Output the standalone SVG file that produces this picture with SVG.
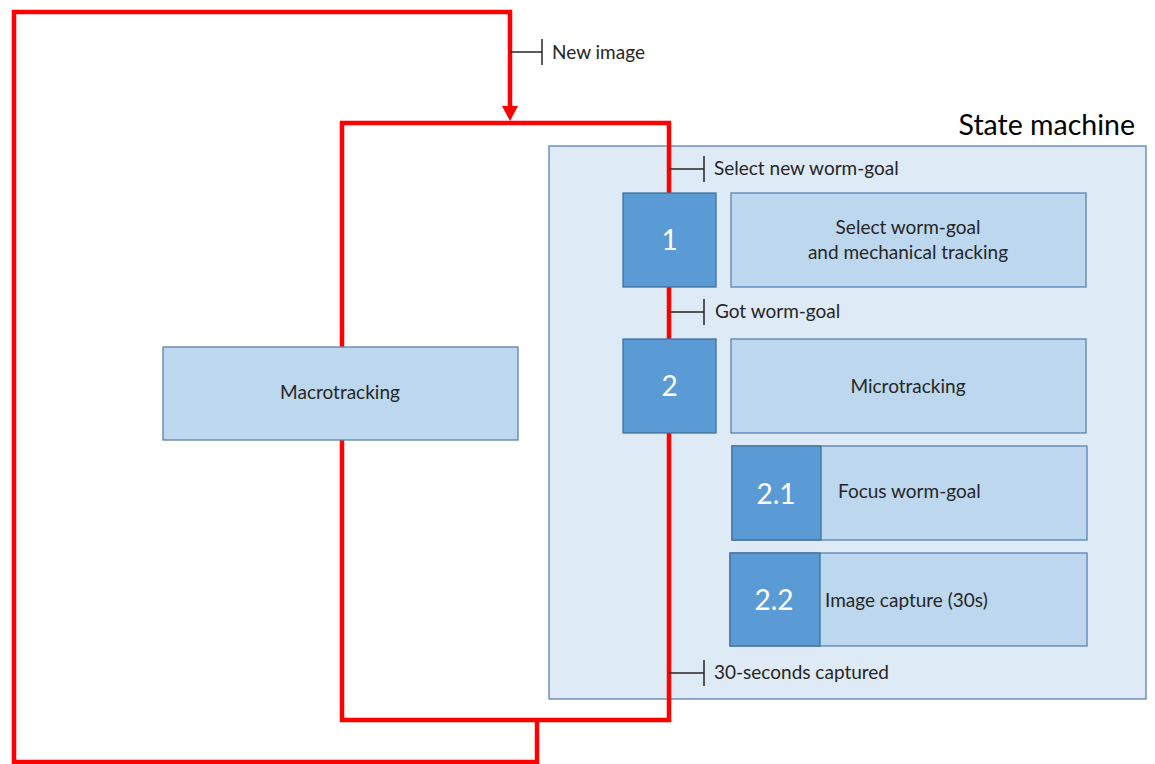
<svg xmlns="http://www.w3.org/2000/svg" width="1155" height="764" viewBox="0 0 1155 764">
<defs>
<style>
.t{font-family:Lato,"Open Sans","Liberation Sans",sans-serif;fill:#262626;font-size:19px}
.n{font-family:Lato,"Open Sans","Liberation Sans",sans-serif;fill:#ffffff;font-size:28px}
.light{fill:#bdd7ee;stroke:#5b82b0;stroke-width:1.3}
.dark{fill:#5b9bd5;stroke:#41719c;stroke-width:1.3}
.red{fill:none;stroke:#ff0000;stroke-width:4.5;stroke-linejoin:miter}
.tick{fill:none;stroke:#262626;stroke-width:1.5}
</style>
</defs>
<rect width="1155" height="764" fill="#ffffff"/>
<g id="state-machine">
<rect x="549" y="146" width="597" height="553" fill="#deeaf6" stroke="#5b82b0" stroke-width="1.3"/>
<text x="1135" y="135" text-anchor="end" style="font-family:Lato,'Open Sans','Liberation Sans',sans-serif;font-size:28.5px;fill:#000">State machine</text>
</g>
<g id="connectors">
<path class="red" d="M537,720 L537,762 L14,762 L14,12 L510,12 L510,108"/>
<path d="M502,106 L518,106 L510,121 z" fill="#ff0000"/>
<path class="red" d="M342,123 L669,123 L669,720 L342,720 Z"/>
<path class="tick" d="M510,52 H542 M542,39 V65"/>
<text class="t" x="552" y="59">New image</text>
<path class="tick" d="M669,169 H704 M704,156 V182"/>
<text class="t" x="714" y="175">Select new worm-goal</text>
<path class="tick" d="M669,312 H704 M704,299 V325"/>
<text class="t" x="715" y="318">Got worm-goal</text>
<path class="tick" d="M669,673 H704 M704,660 V686"/>
<text class="t" x="714" y="679">30-seconds captured</text>
</g>
<g id="macrotracking">
<rect class="light" x="163" y="347" width="355" height="93"/>
<text class="t" x="340" y="399" text-anchor="middle">Macrotracking</text>
</g>
<g id="state-1">
<rect class="dark" x="623" y="193" width="93" height="94"/>
<text class="n" x="669.5" y="250" text-anchor="middle">1</text>
</g>
<g id="select-worm-goal">
<rect class="light" x="731" y="193" width="355" height="94"/>
<text class="t" x="908" y="234" text-anchor="middle">Select worm-goal</text>
<text class="t" x="908" y="259" text-anchor="middle">and mechanical tracking</text>
</g>
<g id="state-2">
<rect class="dark" x="623" y="339" width="93" height="94"/>
<text class="n" x="669.5" y="396" text-anchor="middle">2</text>
</g>
<g id="microtracking">
<rect class="light" x="731" y="339" width="355" height="94"/>
<text class="t" x="908" y="393" text-anchor="middle">Microtracking</text>
</g>
<g id="focus">
<rect class="light" x="732" y="446" width="355" height="94"/>
<rect class="dark" x="732" y="446" width="89" height="94"/>
<text class="n" x="776" y="504" text-anchor="middle">2.1</text>
<text class="t" x="838" y="498">Focus worm-goal</text>
</g>
<g id="capture">
<rect class="light" x="730" y="553" width="357" height="93"/>
<rect class="dark" x="730" y="553" width="90" height="93"/>
<text class="n" x="774" y="610" text-anchor="middle">2.2</text>
<text class="t" x="825" y="607">Image capture (30s)</text>
</g>
</svg>
